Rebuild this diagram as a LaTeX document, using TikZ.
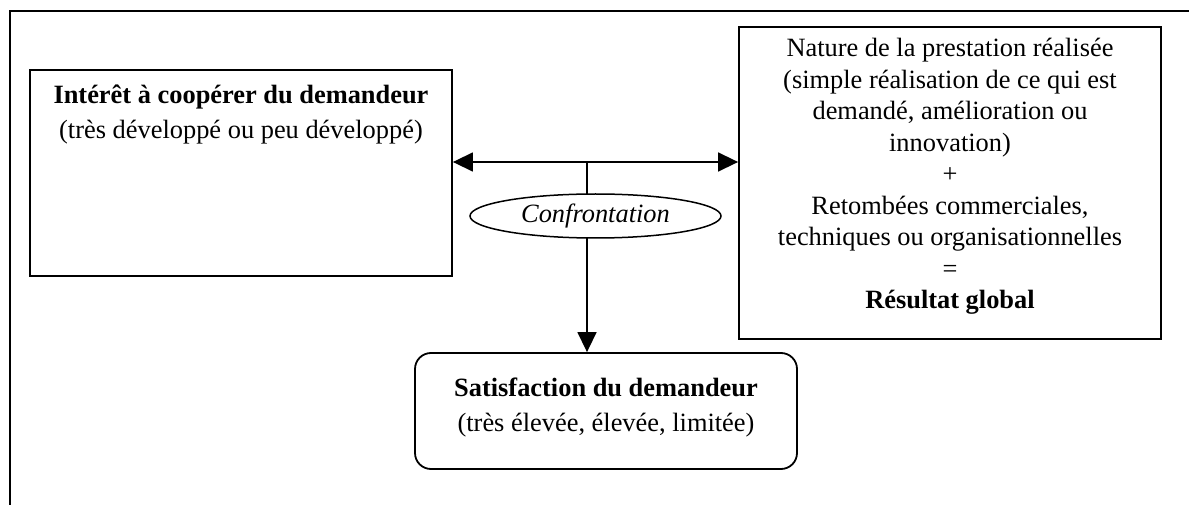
\documentclass[tikz,border=0pt]{standalone}
\usepackage{fontspec}
\setmainfont{Liberation Serif}
\usetikzlibrary{shapes.geometric,arrows.meta}
\begin{document}
\begin{tikzpicture}[x=1pt,y=-1pt,
  box/.style={draw,line width=1.8pt,inner sep=0pt},
  conn/.style={line width=1.5pt,-{Triangle[length=20pt,width=19pt]}},
  txt/.style={font=\fontsize{26.4}{31.5}\selectfont,align=center,inner sep=0pt}]
\useasboundingbox (0,0) rectangle (1189,505);
\draw[line width=1.8pt] (10,505) -- (10,11) -- (1189,11);
% left box
\node[box,minimum width=422pt,minimum height=206pt] (L) at (241,173) {};
\node[txt,anchor=north] (Lt) at (241,85) {\textbf{Intérêt à coopérer du demandeur}\\[3pt](très développé ou peu développé)};
% right box
\node[box,minimum width=422pt,minimum height=312pt] (R) at (950,183) {};
\node[txt,anchor=north] (Rt) at (950,38) {Nature de la prestation réalisée\\(simple réalisation de ce qui est\\demandé, amélioration ou\\innovation)\\+\\Retombées commerciales,\\techniques ou organisationnelles\\=\\\textbf{Résultat global}};
% ellipse
\node[draw,ellipse,line width=1.5pt,minimum width=251pt,minimum height=44pt,inner sep=0pt,font=\fontsize{26.4}{31.5}\selectfont\itshape] (E) at (595.5,216) {Confrontation};
% bottom box
\node[box,rounded corners=16pt,minimum width=382pt,minimum height=116pt] (S) at (606,411) {};
\node[txt,anchor=north] (St) at (606,378) {\textbf{Satisfaction du demandeur}\\[3pt](très élevée, élevée, limitée)};
% connectors
\coordinate (J) at (587,162);
\coordinate (Eb) at (587,238);
\coordinate (Et) at (587,194);
\draw[conn] (J) -- (L.east |- J);
\draw[conn] (J) -- (R.west |- J);
\draw[line width=1.5pt] (J) -- (Et);
\draw[conn] (Eb) -- (Eb |- S.north);
\end{tikzpicture}
\end{document}
